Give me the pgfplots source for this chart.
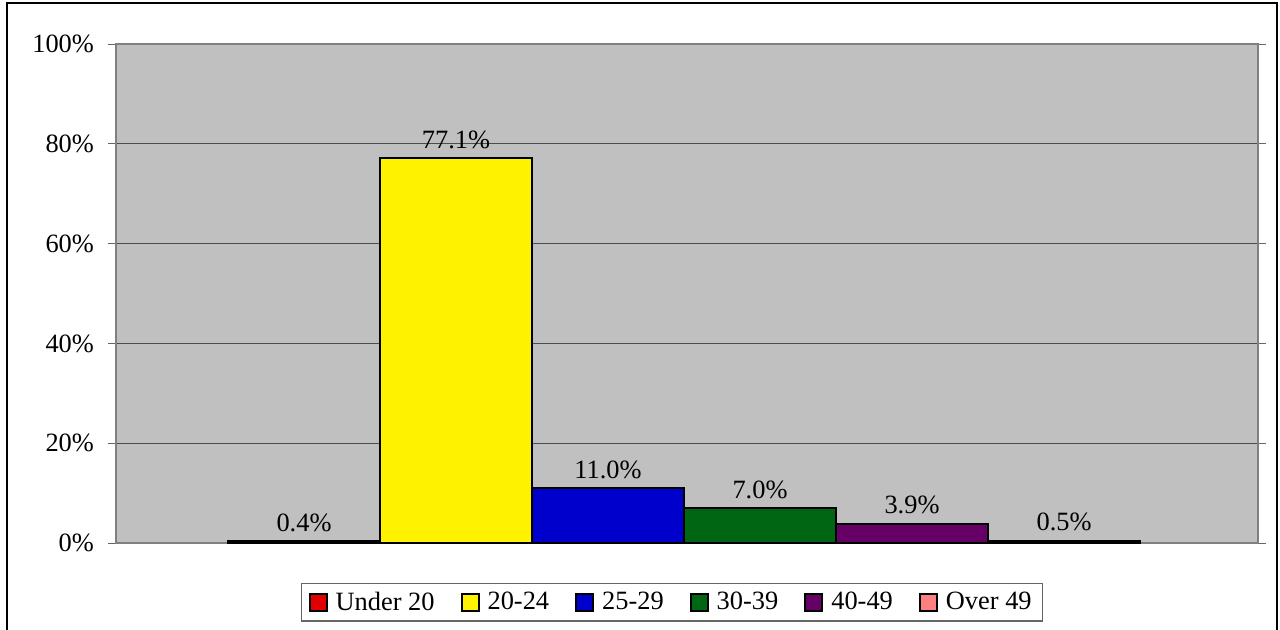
\documentclass[border=0pt]{standalone}
\usepackage{fontspec}
\setmainfont{Liberation Serif}
\usepackage{pgfplots}
\pgfplotsset{compat=1.18}
\definecolor{bggray}{HTML}{C0C0C0}
\definecolor{cred}{HTML}{E00000}
\definecolor{cyellow}{HTML}{FFF200}
\definecolor{cblue}{HTML}{0000CC}
\definecolor{cgreen}{HTML}{006614}
\definecolor{cpurple}{HTML}{660066}
\definecolor{cpink}{HTML}{FF8080}
\begin{document}
\begin{tikzpicture}[font=\fontsize{13.2}{15.5}\selectfont]
\path[use as bounding box] (0,0) rectangle (640pt,-314.5pt);
\draw[line width=1pt] (3.5pt,-316pt) -- (3.5pt,-1.5pt) -- (638.5pt,-1.5pt) -- (638.5pt,-316pt);
\begin{axis}[
  at={(58pt,-271.5pt)}, anchor=south west,
  scale only axis, width=571pt, height=249.5pt,
  ybar=0pt, bar width=1,
  xmin=-3.737, xmax=3.776, ymin=0, ymax=100,
  xtick=\empty,
  ytick={0,20,40,60,80,100},
  yticklabels={0\%,20\%,40\%,60\%,80\%,100\%},
  yticklabel style={xshift=-3.5pt},
  ymajorgrids, grid style={black!70, line width=0.5pt},
  axis background/.style={fill=bggray},
  axis line style={black!50, line width=1pt},
  tick align=outside, major tick length=4pt,
  ytick style={black!60, line width=0.5pt},
  /pgf/number format/assume math mode=true,
  every axis plot/.append style={draw=black, line width=1pt},
  nodes near coords={\pgfmathprintnumber[fixed,fixed zerofill,precision=1]{\pgfplotspointmeta}\%},
  nodes near coords style={inner sep=0pt, yshift=4.2pt, black},
  legend columns=6,
  legend image code/.code={\draw[#1, draw=black, line width=1pt] (0pt,-4.2pt) rectangle (8.5pt,4.2pt);},
  legend style={at={(0.487,-0.080)}, anchor=north, draw=black!60, line width=0.75pt, fill=white,
    /tikz/every even column/.append style={column sep=11pt},
    /tikz/every odd column/.append style={column sep=2pt},
    inner xsep=3.5pt, inner ysep=2pt},
]
\addplot[fill=cred] coordinates {(0,0.4)};
\addplot[fill=cyellow] coordinates {(0,77.1)};
\addplot[fill=cblue] coordinates {(0,11.0)};
\addplot[fill=cgreen] coordinates {(0,7.0)};
\addplot[fill=cpurple] coordinates {(0,3.9)};
\addplot[fill=cpink] coordinates {(0,0.5)};
\legend{Under 20,20-24,25-29,30-39,40-49,Over 49}
\end{axis}
\end{tikzpicture}
\end{document}
